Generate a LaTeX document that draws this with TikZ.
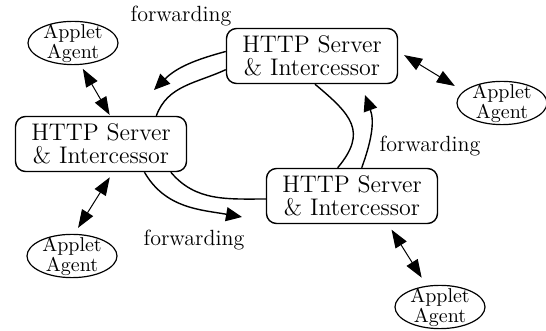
\documentclass[tikz,border=0pt]{standalone}
\usetikzlibrary{arrows.meta,shapes.geometric}
\begin{document}
\begin{tikzpicture}
[
	x=0.5pt,
	y=0.5pt,
	server/.style={draw,rounded corners=5pt,line width=0.7pt,minimum width=85.5pt,minimum height=27.5pt,align=center,font=\fontsize{12}{11.5}\selectfont,text height=19.7pt,text depth=0pt},
	agent/.style={draw,ellipse,line width=0.6pt,inner sep=0pt,minimum width=45pt,minimum height=21pt,align=center,font=\fontsize{10}{8.5}\selectfont,text height=15.3pt,text depth=0pt},
	fwd/.style={font=\fontsize{11}{13}\selectfont},
	ring/.style={line width=0.7pt},
	ringarrow/.style={ring,-{Triangle[length=8pt,width=7pt]}},
	link/.style={line width=0.5pt,{Triangle[length=9pt,width=6.5pt]}-{Triangle[length=9pt,width=6.5pt]}}
]

	\useasboundingbox (0,0) rectangle (546,331);

	% servers
	\node[server] (top) at (312,275) {HTTP Server\\\& Intercessor};
	\node[server] (left) at (101,187) {HTTP Server\\\& Intercessor};
	\node[server] (bot) at (352,135) {HTTP Server\\\& Intercessor};

	% agents
	\node[agent] (ag1) at (73,288) {Applet\\Agent};
	\node[agent] (ag2) at (502,228) {Applet\\Agent};
	\node[agent] (ag3) at (72,75) {Applet\\Agent};
	\node[agent] (ag4) at (440,24) {Applet\\Agent};

	% labels
	\node[fwd] (fw1) at (181,315) {forwarding};
	\node[fwd] (fw2) at (430,185) {forwarding};
	\node[fwd] (fw3) at (194,91) {forwarding};

	% arrow tips
	\coordinate (tipA) at (154,241);
	\coordinate (tipB) at (365,236);
	\coordinate (tipC) at (242,114);

	% ring
	\draw[ring] (top.189) to[out=205,in=70] (left.27);
	\draw[ring] (top.-84) to[out=-40,in=50,looseness=1.4] (bot.117);
	\draw[ring] (left.-22) to[out=-50,in=180] (bot.182);

	% forwarding
	\draw[ringarrow] (top.177) to[out=195,in=45] (tipA);
	\draw[ringarrow] (bot.71) to[out=70,in=-70] (tipB);
	\draw[ringarrow] (left.-33) to[out=-60,in=170] (tipC);

	% agent links
	\draw[link,shorten <=2.25pt,shorten >=0.5pt] (ag1.-71) -- (left.72);
	\draw[link,shorten <=3.5pt,shorten >=5pt] (top.3) -- (ag2.163);
	\draw[link,shorten <=3pt,shorten >=3.5pt] (left.-67) -- (ag3.84);
	\draw[link,shorten <=3.25pt,shorten >=4.75pt] (bot.-38) -- (ag4.122);

\end{tikzpicture}
\end{document}
